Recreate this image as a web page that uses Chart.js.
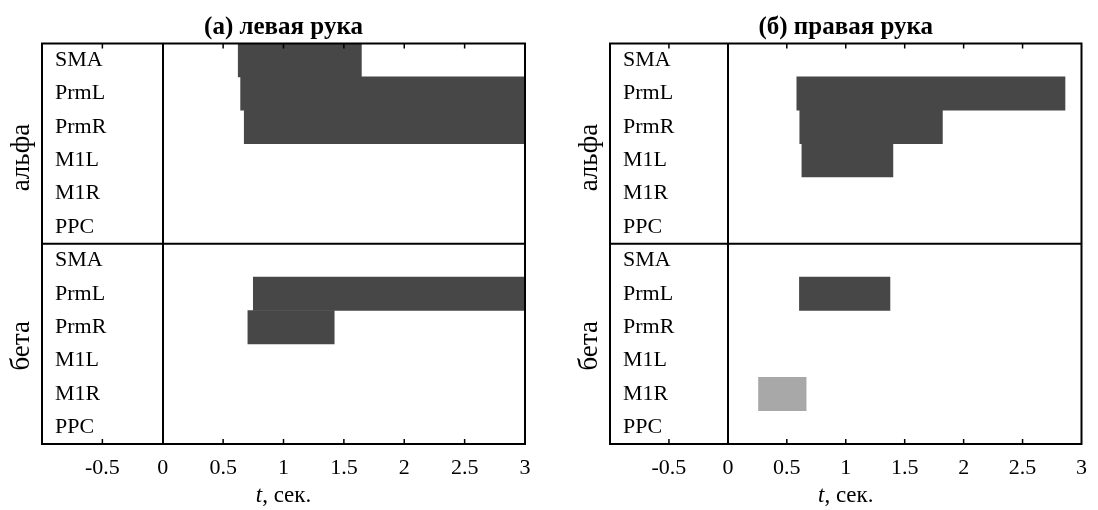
<!DOCTYPE html>
<html>
<head>
<meta charset="utf-8">
<script src="https://cdn.jsdelivr.net/npm/chart.js@4"></script>
<style>
	body { margin: 0; background: #ffffff; }
	.row { display: flex; width: 1098px; height: 510px; }
	canvas { display: block; }
</style>
</head>
<body>
<div class="row">
	<canvas id="leftHand" width="549" height="510"></canvas>
	<canvas id="rightHand" width="549" height="510"></canvas>
</div>
<script>
// Rows: 6 regions for each of the two bands, alpha on top
const regions = ['SMA', 'PrmL', 'PrmR', 'M1L', 'M1R', 'PPC'];
const bands = ['альфа', 'бета'];

const xTicks = [-1, -0.5, 0, 0.5, 1, 1.5, 2, 2.5, 3];

// Left hand, intervals in seconds (null = nothing in that row)
const leftDarkStart = [0.625, 0.645, 0.675, null, null, null, null, 0.75, 0.705, null, null, null];
const leftDarkEnd   = [1.645, 3, 3, null, null, null, null, 3, 1.42, null, null, null];

// Right hand
const rightDarkStart = [null, 0.585, 0.61, 0.628, null, null, null, 0.607, null, null, null, null];
const rightDarkEnd   = [null, 2.86, 1.82, 1.40, null, null, null, 1.375, null, null, null, null];
const rightLightStart = [null, null, null, null, null, null, null, null, null, null, 0.26, null];
const rightLightEnd   = [null, null, null, null, null, null, null, null, null, null, 0.664, null];

const serif = '"Liberation Serif", "Times New Roman", serif';
Chart.defaults.color = '#000000';
Chart.defaults.font.family = serif;

let rowLabels = bands.flatMap(() => regions);

let toIntervals = function(start, end) {
	return start.map((s, i) => s === null ? null : [s, end[i]]);
};

// band names sit a little lower than the middle of their half
let bandNameShift = [14, 2];

// box, inward ticks, band separator, band names and the x title
let framePlugin = {
	id: 'frame',
	afterDraw(chart) {
		let ctx = chart.ctx;
		let area = chart.chartArea;
		let x = chart.scales.x;
		let y = chart.scales.y;

		ctx.save();
		ctx.strokeStyle = '#000000';
		ctx.lineWidth = 1.5;
		x.ticks.forEach(t => {
			if (t.value <= x.min || t.value >= x.max) return;
			let px = x.getPixelForValue(t.value);
			ctx.beginPath();
			ctx.moveTo(px, area.bottom);
			ctx.lineTo(px, area.bottom - 5);
			ctx.moveTo(px, area.top);
			ctx.lineTo(px, area.top + 5);
			ctx.stroke();
		});

		ctx.lineWidth = 2;
		let sep = (y.getPixelForValue(regions.length - 1) + y.getPixelForValue(regions.length)) / 2;
		ctx.beginPath();
		ctx.moveTo(area.left, sep);
		ctx.lineTo(area.right, sep);
		ctx.stroke();
		ctx.strokeRect(area.left, area.top, area.right - area.left, area.bottom - area.top);

		// band names, rotated
		ctx.fillStyle = '#000000';
		ctx.font = '27px ' + serif;
		ctx.textAlign = 'center';
		ctx.textBaseline = 'middle';
		bands.forEach((b, k) => {
			let first = y.getPixelForValue(k * regions.length);
			let last = y.getPixelForValue((k + 1) * regions.length - 1);
			ctx.save();
			ctx.translate(area.left - 20, (first + last) / 2 + bandNameShift[k]);
			ctx.rotate(-Math.PI / 2);
			ctx.fillText(b, 0, 0);
			ctx.restore();
		});

		// x title: italic t followed by the unit
		let italic = 'italic 23px ' + serif;
		let normal = '23px ' + serif;
		ctx.font = italic;
		let w1 = ctx.measureText('t').width;
		ctx.font = normal;
		let w2 = ctx.measureText(', сек.').width;
		let x0 = (area.left + area.right) / 2 - (w1 + w2) / 2;
		ctx.textAlign = 'left';
		ctx.font = italic;
		ctx.fillText('t', x0, 496);
		ctx.font = normal;
		ctx.fillText(', сек.', x0 + w1, 496);
		ctx.restore();
	}
};

let makePanel = function(id, title, datasets, yWidth, padRight) {
	return new Chart(document.getElementById(id), {
		type: 'bar',
		data: {
			labels: rowLabels,
			datasets: datasets
		},
		options: {
			responsive: false,
			animation: false,
			indexAxis: 'y',
			layout: { padding: { left: 0, right: padRight, top: 0, bottom: 0 } },
			plugins: {
				legend: { display: false },
				tooltip: { enabled: false },
				title: {
					display: true,
					text: title,
					fullSize: false,
					color: '#000000',
					font: { family: serif, size: 25, weight: 'bold', lineHeight: 1.2 },
					padding: { top: 13, bottom: 0.5 }
				}
			},
			scales: {
				x: {
					type: 'linear',
					min: -1,
					max: 3,
					afterBuildTicks: scale => { scale.ticks = xTicks.map(v => ({ value: v })); },
					afterFit: scale => { scale.height = 66; },
					border: { display: false },
					grid: {
						drawTicks: false,
						lineWidth: 2,
						color: c => (c.tick && c.tick.value === 0) ? '#000000' : 'rgba(0,0,0,0)'
					},
					ticks: {
						font: { size: 22 },
						padding: 11,
						maxRotation: 0,
						callback: v => v === -1 ? '' : String(v)
					}
				},
				y: {
					type: 'category',
					afterFit: scale => { scale.width = yWidth; },
					border: { display: false },
					grid: { display: false, drawTicks: false },
					ticks: {
						mirror: true,
						padding: 13,
						font: { size: 22 },
						autoSkip: false
					}
				}
			}
		},
		plugins: [framePlugin]
	});
};

// (а) left hand
let leftChart = makePanel('leftHand', '(а) левая рука', [{
	data: toIntervals(leftDarkStart, leftDarkEnd),
	backgroundColor: '#474747',
	borderWidth: 0,
	barPercentage: 1,
	categoryPercentage: 1,
	grouped: false
}], 42, 24);

// (б) right hand
let rightChart = makePanel('rightHand', '(б) правая рука', [{
	data: toIntervals(rightDarkStart, rightDarkEnd),
	backgroundColor: '#474747',
	borderWidth: 0,
	barPercentage: 1,
	categoryPercentage: 1,
	grouped: false
}, {
	data: toIntervals(rightLightStart, rightLightEnd),
	backgroundColor: '#a8a8a8',
	borderWidth: 0,
	barPercentage: 1,
	categoryPercentage: 1,
	grouped: false
}], 61, 6);
</script>
</body>
</html>
